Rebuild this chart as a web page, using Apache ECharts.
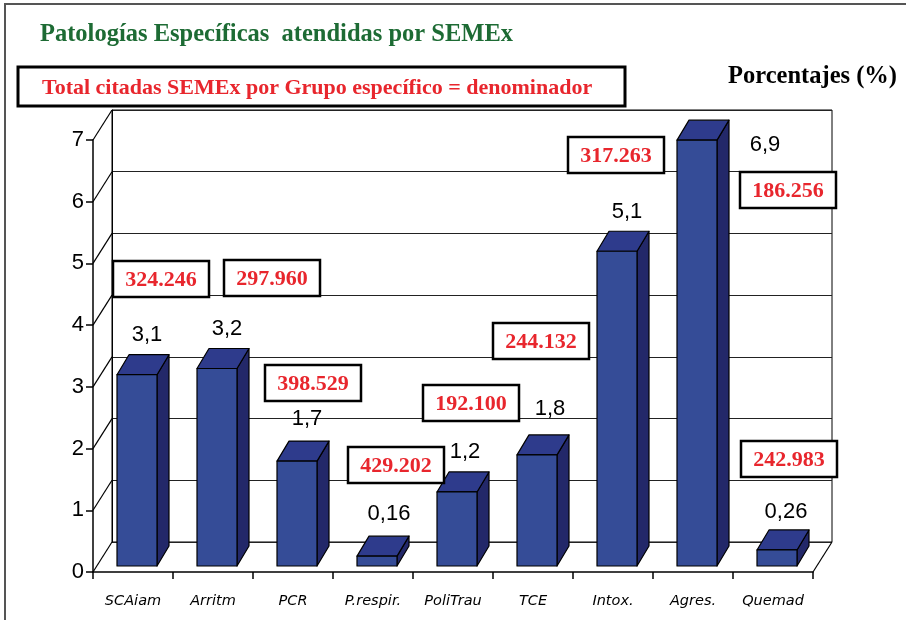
<!DOCTYPE html>
<html>
<head>
<meta charset="utf-8">
<script src="https://cdn.jsdelivr.net/npm/echarts@6/dist/echarts.min.js"></script>
<style>
html,body{margin:0;padding:0;background:#fff;}
#chart{width:906px;height:620px;}
</style>
</head>
<body>
<div id="chart"></div>
<script>
// ---- data ----
const categories = ['SCAiam', 'Arritm', 'PCR', 'P.respir.', 'PoliTrau', 'TCE', 'Intox.', 'Agres.', 'Quemad'];
const percentages = [3.1, 3.2, 1.7, 0.16, 1.2, 1.8, 5.1, 6.9, 0.26];
const valueLabels = ['3,1', '3,2', '1,7', '0,16', '1,2', '1,8', '5,1', '6,9', '0,26'];
const denominators = ['324.246', '297.960', '398.529', '429.202', '192.100', '244.132', '317.263', '186.256', '242.983'];
const yTicks = [0, 1, 2, 3, 4, 5, 6, 7];

// ---- layout (not data) ----
const titleText = 'Patologías Específicas  atendidas por SEMEx';
const subtitleText = 'Total citadas SEMEx por Grupo específico = denominador';
const unitText = 'Porcentajes (%)';
const labelOffsets = [[10,-40],[10,-40],[10,-42],[12,-42],[8,-40],[13,-46],[10,-39],[68,5],[9,-38]];
const boxCenters = [[161,279],[272,278],[313,383],[396,465],[471,403],[541,341],[616,155],[788,190],[789,459]];

const WALL_DX = 19, WALL_DY = -30;
const BAR_SHIFT_X = 4, BAR_SHIFT_Y = -6;
const DEPTH_DX = 12, DEPTH_DY = -20;

const C_FRONT = '#354c97', C_SIDE = '#232869', C_TOP = '#2e3b8c';
const RED = '#e8262d';

const chart = echarts.init(document.getElementById('chart'), null, {renderer: 'canvas'});

const graphics = [
  {type: 'rect', shape: {x: 5, y: 4, width: 1000, height: 1000}, style: {fill: 'none', stroke: '#555', lineWidth: 2}, z: 100},
  {type: 'text', x: 40, y: 35, style: {text: titleText, font: 'bold 24.5px "Liberation Serif"', fill: '#1d6b34', textVerticalAlign: 'middle'}, z: 100},
  {type: 'rect', shape: {x: 18, y: 67, width: 607, height: 39}, style: {fill: '#fff', stroke: '#000', lineWidth: 3}, z: 100},
  {type: 'text', x: 42, y: 88, style: {text: subtitleText, font: 'bold 22px "Liberation Serif"', fill: RED, textVerticalAlign: 'middle'}, z: 101},
  {type: 'text', x: 897, y: 77, style: {text: unitText, font: 'bold 24.5px "Liberation Serif"', fill: '#000', textAlign: 'right', textVerticalAlign: 'middle'}, z: 100}
];
denominators.forEach(function (d, i) {
  const c = boxCenters[i];
  graphics.push({type: 'rect', shape: {x: c[0] - 48, y: c[1] - 18, width: 96, height: 36}, style: {fill: '#fff', stroke: '#000', lineWidth: 2.5}, z: 100});
  graphics.push({type: 'text', x: c[0], y: c[1] + 1, style: {text: d, font: 'bold 22px "Liberation Serif"', fill: RED, textAlign: 'center', textVerticalAlign: 'middle'}, z: 101});
});

const option = {
  backgroundColor: '#fff',
  animation: false,
  grid: [
    {left: 93, right: 93, top: 140, bottom: 48, containLabel: false},
    {left: 112, right: 74, top: 110, bottom: 78, show: true, borderColor: '#000', borderWidth: 1, backgroundColor: 'transparent', containLabel: false}
  ],
  xAxis: [
    {type: 'category', gridIndex: 0, data: categories, boundaryGap: true,
      axisLine: {show: true, lineStyle: {color: '#000', width: 1.5}},
      axisTick: {show: true, interval: 0, length: 7, inside: false, lineStyle: {color: '#000', width: 1.5}},
      axisLabel: {interval: 0, margin: 22, color: '#000', fontFamily: 'DejaVu Sans', fontStyle: 'italic', fontSize: 14.5},
      splitLine: {show: false}},
    {type: 'category', gridIndex: 1, data: categories, show: false}
  ],
  yAxis: [
    {type: 'value', gridIndex: 0, min: 0, max: 7, interval: 1,
      axisLine: {show: true, lineStyle: {color: '#000', width: 1.5}},
      axisTick: {show: true, length: 7, lineStyle: {color: '#000', width: 1.5}},
      axisLabel: {margin: 9, color: '#000', fontFamily: 'Arial, "Liberation Sans"', fontSize: 22},
      splitLine: {show: false}},
    {type: 'value', gridIndex: 1, min: 0, max: 7, interval: 1,
      axisLine: {show: true, lineStyle: {color: '#000', width: 1}},
      axisTick: {show: false}, axisLabel: {show: false},
      splitLine: {show: true, lineStyle: {color: '#222', width: 1}}}
  ],
  graphic: graphics,
  series: [
    {
      type: 'custom', name: 'frame', xAxisIndex: 0, yAxisIndex: 0,
      data: yTicks.map(function (t) { return [0, t]; }),
      silent: true, z: 1,
      renderItem: function (params, api) {
        const cs = params.coordSys;
        const y = api.coord([0, api.value(1)])[1];
        const children = [{type: 'line', shape: {x1: cs.x, y1: y, x2: cs.x + WALL_DX, y2: y + WALL_DY}, style: {stroke: '#000', lineWidth: 1.2}}];
        if (api.value(1) === 0) {
          children.push({type: 'line', shape: {x1: cs.x + cs.width, y1: y, x2: cs.x + cs.width + WALL_DX, y2: y + WALL_DY}, style: {stroke: '#000', lineWidth: 1.2}});
        }
        return {type: 'group', children: children};
      }
    },
    {
      type: 'custom', name: 'Porcentajes', xAxisIndex: 0, yAxisIndex: 0,
      data: percentages.map(function (v, i) { return [i, v]; }),
      z: 5,
      renderItem: function (params, api) {
        const i = api.value(0), v = api.value(1);
        const base = api.coord([i, 0]);
        const top = api.coord([i, v]);
        const w = api.size([1, 0])[0] * 0.5;
        const x0 = base[0] + BAR_SHIFT_X - w / 2, x1 = x0 + w;
        const yb = base[1] + BAR_SHIFT_Y, yt = top[1] + BAR_SHIFT_Y;
        const st = {stroke: '#000', lineWidth: 1.2, lineJoin: 'round'};
        const off = labelOffsets[i];
        return {type: 'group', children: [
          {type: 'polygon', shape: {points: [[x1, yb], [x1 + DEPTH_DX, yb + DEPTH_DY], [x1 + DEPTH_DX, yt + DEPTH_DY], [x1, yt]]}, style: Object.assign({fill: C_SIDE}, st)},
          {type: 'polygon', shape: {points: [[x0, yt], [x1, yt], [x1 + DEPTH_DX, yt + DEPTH_DY], [x0 + DEPTH_DX, yt + DEPTH_DY]]}, style: Object.assign({fill: C_TOP}, st)},
          {type: 'rect', shape: {x: x0, y: yt, width: w, height: yb - yt}, style: Object.assign({fill: C_FRONT}, st)},
          {type: 'text', x: (x0 + x1) / 2 + off[0], y: yt + off[1], style: {text: valueLabels[i], font: '22px Arial, "Liberation Sans"', fill: '#000', textAlign: 'center', textVerticalAlign: 'middle'}}
        ]};
      }
    }
  ]
};
chart.setOption(option);
</script>
</body>
</html>
